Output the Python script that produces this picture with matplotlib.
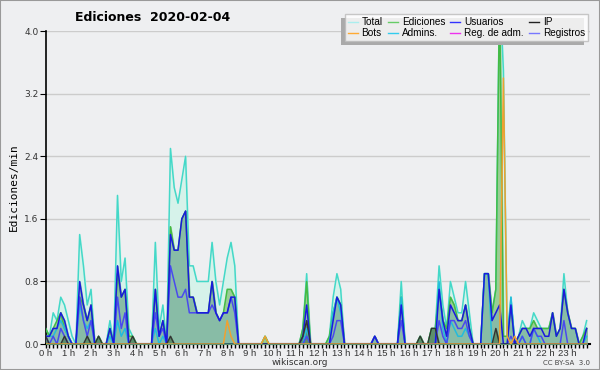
import numpy as np
import matplotlib.pyplot as plt
from matplotlib.patches import Rectangle

# one value every 10 minutes, 6 per hour (edits/min)
total = [0.2, 0.1, 0.4, 0.3, 0.6, 0.5,
         0.3, 0.1, 0.0, 1.4, 1.0, 0.5,
         0.7, 0.0, 0.1, 0.0, 0.0, 0.3,
         0.0, 1.9, 0.8, 1.1, 0.2, 0.1,
         0.0, 0.0, 0.0, 0.0, 0.0, 1.3,
         0.2, 0.5, 0.0, 2.5, 2.0, 1.8,
         2.1, 2.4, 1.0, 1.0, 0.8, 0.8,
         0.8, 0.8, 1.3, 0.8, 0.5, 0.8,
         1.1, 1.3, 1.0, 0.0, 0.0, 0.0,
         0.0, 0.0, 0.0, 0.0, 0.1, 0.0,
         0.0, 0.0, 0.0, 0.0, 0.0, 0.0,
         0.0, 0.0, 0.2, 0.9, 0.0, 0.0,
         0.0, 0.0, 0.0, 0.1, 0.6, 0.9,
         0.7, 0.0, 0.0, 0.0, 0.0, 0.0,
         0.0, 0.0, 0.0, 0.1, 0.0, 0.0,
         0.0, 0.0, 0.0, 0.0, 0.8, 0.0,
         0.0, 0.0, 0.0, 0.1, 0.0, 0.0,
         0.2, 0.2, 1.0, 0.5, 0.2, 0.8,
         0.6, 0.4, 0.4, 0.8, 0.4, 0.0,
         0.0, 0.0, 0.9, 0.9, 0.4, 0.7,
         4.6, 3.5, 0.1, 0.6, 0.0, 0.1,
         0.3, 0.2, 0.2, 0.4, 0.3, 0.2,
         0.2, 0.2, 0.4, 0.1, 0.2, 0.9,
         0.4, 0.2, 0.2, 0.0, 0.1, 0.3]

ediciones = [0.2, 0.1, 0.2, 0.3, 0.4, 0.2,
             0.1, 0.0, 0.0, 0.6, 0.5, 0.3,
             0.5, 0.0, 0.1, 0.0, 0.0, 0.2,
             0.0, 0.9, 0.6, 0.7, 0.1, 0.1,
             0.0, 0.0, 0.0, 0.0, 0.0, 0.7,
             0.1, 0.3, 0.0, 1.5, 1.2, 1.2,
             1.6, 1.7, 0.6, 0.6, 0.4, 0.4,
             0.4, 0.4, 0.8, 0.4, 0.3, 0.4,
             0.7, 0.7, 0.6, 0.0, 0.0, 0.0,
             0.0, 0.0, 0.0, 0.0, 0.1, 0.0,
             0.0, 0.0, 0.0, 0.0, 0.0, 0.0,
             0.0, 0.0, 0.2, 0.8, 0.0, 0.0,
             0.0, 0.0, 0.0, 0.1, 0.4, 0.6,
             0.5, 0.0, 0.0, 0.0, 0.0, 0.0,
             0.0, 0.0, 0.0, 0.1, 0.0, 0.0,
             0.0, 0.0, 0.0, 0.0, 0.6, 0.0,
             0.0, 0.0, 0.0, 0.1, 0.0, 0.0,
             0.2, 0.2, 0.7, 0.3, 0.2, 0.6,
             0.5, 0.3, 0.3, 0.5, 0.2, 0.0,
             0.0, 0.0, 0.9, 0.9, 0.4, 0.7,
             4.5, 0.1, 0.1, 0.5, 0.0, 0.1,
             0.2, 0.2, 0.2, 0.3, 0.2, 0.2,
             0.2, 0.2, 0.4, 0.1, 0.2, 0.7,
             0.4, 0.2, 0.2, 0.0, 0.1, 0.2]

usuarios = [0.1, 0.1, 0.2, 0.2, 0.4, 0.3,
            0.1, 0.0, 0.0, 0.8, 0.5, 0.3,
            0.5, 0.0, 0.0, 0.0, 0.0, 0.2,
            0.0, 1.0, 0.6, 0.7, 0.0, 0.0,
            0.0, 0.0, 0.0, 0.0, 0.0, 0.7,
            0.1, 0.3, 0.0, 1.4, 1.2, 1.2,
            1.6, 1.7, 0.6, 0.6, 0.4, 0.4,
            0.4, 0.4, 0.8, 0.4, 0.3, 0.4,
            0.4, 0.6, 0.6, 0.0, 0.0, 0.0,
            0.0, 0.0, 0.0, 0.0, 0.0, 0.0,
            0.0, 0.0, 0.0, 0.0, 0.0, 0.0,
            0.0, 0.0, 0.1, 0.5, 0.0, 0.0,
            0.0, 0.0, 0.0, 0.0, 0.3, 0.6,
            0.5, 0.0, 0.0, 0.0, 0.0, 0.0,
            0.0, 0.0, 0.0, 0.1, 0.0, 0.0,
            0.0, 0.0, 0.0, 0.0, 0.5, 0.0,
            0.0, 0.0, 0.0, 0.0, 0.0, 0.0,
            0.0, 0.0, 0.7, 0.3, 0.1, 0.5,
            0.4, 0.3, 0.3, 0.5, 0.2, 0.0,
            0.0, 0.0, 0.9, 0.9, 0.3, 0.4,
            0.5, 0.0, 0.0, 0.5, 0.0, 0.1,
            0.2, 0.2, 0.1, 0.2, 0.2, 0.2,
            0.1, 0.1, 0.4, 0.1, 0.2, 0.7,
            0.4, 0.2, 0.2, 0.0, 0.0, 0.2]

ip = [0.1, 0.0, 0.0, 0.0, 0.0, 0.1,
      0.0, 0.0, 0.0, 0.0, 0.0, 0.1,
      0.0, 0.0, 0.1, 0.0, 0.0, 0.0,
      0.0, 0.0, 0.0, 0.0, 0.0, 0.1,
      0.0, 0.0, 0.0, 0.0, 0.0, 0.0,
      0.0, 0.0, 0.0, 0.1, 0.0, 0.0,
      0.0, 0.0, 0.0, 0.0, 0.0, 0.0,
      0.0, 0.0, 0.0, 0.0, 0.0, 0.0,
      0.0, 0.0, 0.0, 0.0, 0.0, 0.0,
      0.0, 0.0, 0.0, 0.0, 0.0, 0.0,
      0.0, 0.0, 0.0, 0.0, 0.0, 0.0,
      0.0, 0.0, 0.1, 0.3, 0.0, 0.0,
      0.0, 0.0, 0.0, 0.0, 0.0, 0.0,
      0.0, 0.0, 0.0, 0.0, 0.0, 0.0,
      0.0, 0.0, 0.0, 0.0, 0.0, 0.0,
      0.0, 0.0, 0.0, 0.0, 0.0, 0.0,
      0.0, 0.0, 0.0, 0.1, 0.0, 0.0,
      0.2, 0.2, 0.0, 0.0, 0.0, 0.0,
      0.0, 0.0, 0.0, 0.0, 0.0, 0.0,
      0.0, 0.0, 0.0, 0.0, 0.0, 0.2,
      0.0, 0.0, 0.0, 0.0, 0.0, 0.0,
      0.0, 0.0, 0.0, 0.0, 0.0, 0.0,
      0.0, 0.0, 0.0, 0.0, 0.0, 0.0,
      0.0, 0.0, 0.0, 0.0, 0.0, 0.0]

bots = [0.0] * 144
bots_idx = [48, 49, 58, 121, 122, 124]
bots_val = [0.3, 0.1, 0.1, 3.4, 0.1, 0.1]

admins = [0.1, 0.1, 0.1, 0.2, 0.3, 0.2,
          0.1, 0.0, 0.0, 0.5, 0.3, 0.2,
          0.3, 0.0, 0.0, 0.0, 0.0, 0.1,
          0.0, 0.3, 0.1, 0.2, 0.0, 0.0,
          0.0, 0.0, 0.0, 0.0, 0.0, 0.2,
          0.0, 0.1, 0.0, 0.0, 0.0, 0.0,
          0.0, 0.0, 0.0, 0.0, 0.0, 0.0,
          0.0, 0.0, 0.0, 0.0, 0.0, 0.0,
          0.0, 0.0, 0.0, 0.0, 0.0, 0.0,
          0.0, 0.0, 0.0, 0.0, 0.0, 0.0,
          0.0, 0.0, 0.0, 0.0, 0.0, 0.0,
          0.0, 0.0, 0.0, 0.2, 0.0, 0.0,
          0.0, 0.0, 0.0, 0.0, 0.4, 0.6,
          0.4, 0.0, 0.0, 0.0, 0.0, 0.0,
          0.0, 0.0, 0.0, 0.0, 0.0, 0.0,
          0.0, 0.0, 0.0, 0.0, 0.6, 0.0,
          0.0, 0.0, 0.0, 0.0, 0.0, 0.0,
          0.0, 0.0, 0.8, 0.2, 0.0, 0.3,
          0.2, 0.1, 0.1, 0.2, 0.1, 0.0,
          0.0, 0.0, 0.9, 0.9, 0.0, 0.0,
          0.0, 0.0, 0.0, 0.6, 0.0, 0.0,
          0.1, 0.0, 0.0, 0.2, 0.1, 0.0,
          0.0, 0.0, 0.0, 0.0, 0.0, 0.0,
          0.0, 0.0, 0.0, 0.0, 0.0, 0.1]

reg_adm = [0.0] * 144

registros = [0.1, 0.0, 0.1, 0.0, 0.2, 0.1,
             0.0, 0.0, 0.0, 0.6, 0.3, 0.1,
             0.3, 0.0, 0.0, 0.0, 0.0, 0.0,
             0.0, 0.6, 0.2, 0.4, 0.0, 0.0,
             0.0, 0.0, 0.0, 0.0, 0.0, 0.4,
             0.1, 0.2, 0.0, 1.0, 0.8, 0.6,
             0.6, 0.7, 0.4, 0.4, 0.4, 0.4,
             0.4, 0.4, 0.5, 0.4, 0.3, 0.4,
             0.4, 0.6, 0.4, 0.0, 0.0, 0.0,
             0.0, 0.0, 0.0, 0.0, 0.0, 0.0,
             0.0, 0.0, 0.0, 0.0, 0.0, 0.0,
             0.0, 0.0, 0.0, 0.1, 0.0, 0.0,
             0.0, 0.0, 0.0, 0.0, 0.1, 0.3,
             0.3, 0.0, 0.0, 0.0, 0.0, 0.0,
             0.0, 0.0, 0.0, 0.1, 0.0, 0.0,
             0.0, 0.0, 0.0, 0.0, 0.3, 0.0,
             0.0, 0.0, 0.0, 0.0, 0.0, 0.0,
             0.0, 0.0, 0.3, 0.1, 0.0, 0.3,
             0.3, 0.2, 0.2, 0.3, 0.1, 0.0,
             0.0, 0.0, 0.0, 0.0, 0.0, 0.0,
             0.0, 0.0, 0.0, 0.1, 0.0, 0.0,
             0.1, 0.0, 0.0, 0.2, 0.1, 0.1,
             0.0, 0.0, 0.0, 0.0, 0.0, 0.3,
             0.0, 0.0, 0.0, 0.0, 0.0, 0.0]

for i, v in zip(bots_idx, bots_val):
    bots[i] = v

hour_labels = [f"{h} h" for h in range(24)]
yticks = [0.0, 0.8, 1.6, 2.4, 3.2, 4.0]

t = np.arange(144) / 6.0
bg = '#eeeff1'

fig = plt.figure(figsize=(6, 3.7), dpi=100, facecolor=bg)
ax = fig.add_axes([0.076, 0.070, 0.908, 0.846], facecolor=bg)

# fills
ax.fill_between(t, total, color='#d6f2ea', zorder=1)
ax.fill_between(t, ediciones, color='#9acd95', zorder=2)
ax.fill_between(t, usuarios, color='#88bca6', zorder=3)
ax.fill_between(t, ip, color='#5e8f6c', zorder=4)

# lines
ax.plot(t, reg_adm, color='#ee44ee', lw=1, zorder=1)
ax.plot(t, total, color='#44d8c8', lw=1.1, zorder=5)
ax.plot(t, ediciones, color='#44bb44', lw=1.1, zorder=5)
ax.plot(t, admins, color='#22bbdd', lw=1.1, zorder=6)
ax.plot(t, registros, color='#4a4aee', lw=1.1, zorder=6)
ax.plot(t, usuarios, color='#1a1add', lw=1.1, zorder=7)
ax.plot(t, ip, color='#333333', lw=1, zorder=7)
ax.plot(t, bots, color='#f0a030', lw=1.1, zorder=8)

ax.set_xlim(0, 24)
ax.set_ylim(0, 4.0)
ax.set_yticks(yticks)
ax.set_yticklabels([f"{v:.1f}" for v in yticks], fontsize=6.5, color='#333333')
ax.set_xticks(range(24))
ax.set_xticklabels(hour_labels, fontsize=6.8, color='#333333', family='Liberation Sans')
ax.set_xticks(np.arange(0, 24, 1 / 6), minor=True)
ax.tick_params(axis='x', which='both', length=3, width=1, pad=0.3)
ax.tick_params(axis='y', length=4, pad=1)
ax.grid(axis='y', color='#cccccc', lw=1)
ax.set_axisbelow(True)
for s in ['top', 'right']:
    ax.spines[s].set_visible(False)
ax.spines['left'].set_linewidth(1.2)
ax.spines['bottom'].set_linewidth(1.5)
ax.set_ylabel('Ediciones/min', fontsize=8, family='DejaVu Sans Mono', labelpad=4)

# legend in the same order as the original
orden = ['Total', 'Bots', 'Ediciones', 'Admins.', 'Usuarios', 'Reg. de adm.', 'IP', 'Registros']
colores = {'Total': '#aaeeee', 'Ediciones': '#66cc66', 'Usuarios': '#3333ff', 'IP': '#222222',
           'Bots': '#ffaa33', 'Admins.': '#33ccee', 'Reg. de adm.': '#ee33ee', 'Registros': '#7777ff'}
handles = [plt.Line2D([], [], color=colores[n], lw=1) for n in orden]
leg = fig.legend(handles, orden, ncol=4, loc='upper right', bbox_to_anchor=(0.988, 0.975),
                 frameon=True, fancybox=False, shadow=False,
                 handlelength=1.0, handletextpad=0.4, columnspacing=0.5, labelspacing=0.1,
                 borderpad=0.3, edgecolor='#bbbbbb', prop={'family': 'Liberation Sans', 'size': 7.2})
leg.get_frame().set_facecolor('white')
leg.set_zorder(10)

# gray shadow on the lower-left of the legend box
fig.canvas.draw()
bb = leg.get_window_extent().transformed(fig.transFigure.inverted())
dx, dy = 4 / 600, 4 / 370
fig.patches.append(Rectangle((bb.x0 - dx, bb.y0 - dy), bb.width, bb.height,
                             transform=fig.transFigure, facecolor='#aaaaaa',
                             edgecolor='none', zorder=9))

fig.text(0.255, 0.953, 'Ediciones  2020-02-04', fontsize=9, fontweight='bold', ha='center', va='center')
fig.text(0.5, 0.019, 'wikiscan.org', fontsize=6.5, ha='center', va='center', color='#333333')
fig.text(0.983, 0.019, 'CC BY-SA  3.0', fontsize=5, ha='right', va='center', color='#444444')
fig.patches.append(Rectangle((0, 0), 1, 1, transform=fig.transFigure, fill=False,
                             edgecolor='#999999', lw=1.5))

fig.savefig('out.png', dpi=100, facecolor=bg)
